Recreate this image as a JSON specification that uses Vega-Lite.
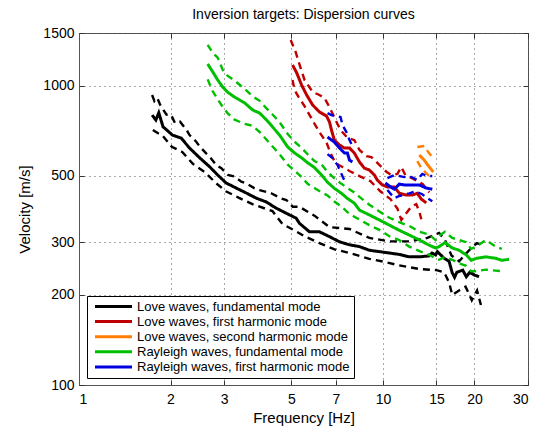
{
"$schema": "https://vega.github.io/schema/vega-lite/v6.json",
"width": 449, "height": 352,
"autosize": {"type": "none"},
"padding": {"left": 79, "top": 33, "right": 10, "bottom": 47},
"background": "white",
"title": {"text": "Inversion targets: Dispersion curves", "fontSize": 14, "fontWeight": "normal", "font": "Liberation Sans", "offset": 4, "anchor": "middle", "color": "black"},
"config": {
"view": {"stroke": "#555", "strokeWidth": 1},
"axis": {"labelFont": "Liberation Sans", "titleFont": "Liberation Sans", "labelFontSize": 14, "titleFontSize": 15, "titleFontWeight": "normal", "labelColor": "black", "titleColor": "black", "tickSize": -5, "tickColor": "#333", "domainColor": "#555", "gridDash": [1, 4], "gridColor": "#444", "gridOpacity": 0.9, "labelPadding": 12}
},
"data": {"values": [
{"m":"L0","k":"mid","s":"L0m","f":1.74,"v":798},{"m":"L0","k":"mid","s":"L0m","f":1.79,"v":768},{"m":"L0","k":"mid","s":"L0m","f":1.83,"v":812},{"m":"L0","k":"mid","s":"L0m","f":1.89,"v":729},{"m":"L0","k":"mid","s":"L0m","f":2.03,"v":684},{"m":"L0","k":"mid","s":"L0m","f":2.17,"v":668},{"m":"L0","k":"mid","s":"L0m","f":2.31,"v":619},{"m":"L0","k":"mid","s":"L0m","f":2.5,"v":573},{"m":"L0","k":"mid","s":"L0m","f":2.69,"v":536},{"m":"L0","k":"mid","s":"L0m","f":2.86,"v":503},{"m":"L0","k":"mid","s":"L0m","f":3.05,"v":473},{"m":"L0","k":"mid","s":"L0m","f":3.29,"v":455},{"m":"L0","k":"mid","s":"L0m","f":3.55,"v":438},{"m":"L0","k":"mid","s":"L0m","f":3.83,"v":421},{"m":"L0","k":"mid","s":"L0m","f":4.13,"v":409},{"m":"L0","k":"mid","s":"L0m","f":4.45,"v":390},{"m":"L0","k":"mid","s":"L0m","f":4.8,"v":375},{"m":"L0","k":"mid","s":"L0m","f":5.18,"v":361},{"m":"L0","k":"mid","s":"L0m","f":5.31,"v":347},{"m":"L0","k":"mid","s":"L0m","f":5.73,"v":325},{"m":"L0","k":"mid","s":"L0m","f":6.18,"v":325},{"m":"L0","k":"mid","s":"L0m","f":6.67,"v":313},{"m":"L0","k":"mid","s":"L0m","f":7.19,"v":301},{"m":"L0","k":"mid","s":"L0m","f":7.76,"v":294},{"m":"L0","k":"mid","s":"L0m","f":8.37,"v":290},{"m":"L0","k":"mid","s":"L0m","f":9.02,"v":282},{"m":"L0","k":"mid","s":"L0m","f":9.73,"v":279},{"m":"L0","k":"mid","s":"L0m","f":10.5,"v":276},{"m":"L0","k":"mid","s":"L0m","f":11.32,"v":273},{"m":"L0","k":"mid","s":"L0m","f":12.21,"v":268},{"m":"L0","k":"mid","s":"L0m","f":13.17,"v":268},{"m":"L0","k":"mid","s":"L0m","f":14.2,"v":270},{"m":"L0","k":"mid","s":"L0m","f":14.5,"v":276},{"m":"L0","k":"mid","s":"L0m","f":14.9,"v":272},{"m":"L0","k":"mid","s":"L0m","f":15.1,"v":279},{"m":"L0","k":"mid","s":"L0m","f":15.9,"v":265},{"m":"L0","k":"mid","s":"L0m","f":16.5,"v":259},{"m":"L0","k":"mid","s":"L0m","f":16.9,"v":237},{"m":"L0","k":"mid","s":"L0m","f":17.2,"v":229},{"m":"L0","k":"mid","s":"L0m","f":17.5,"v":238},{"m":"L0","k":"mid","s":"L0m","f":18.3,"v":242},{"m":"L0","k":"mid","s":"L0m","f":18.8,"v":230},{"m":"L0","k":"mid","s":"L0m","f":19.3,"v":238},{"m":"L0","k":"mid","s":"L0m","f":20.0,"v":233},{"m":"L0","k":"mid","s":"L0m","f":20.7,"v":230},
{"m":"L0","k":"bnd","s":"L0u","f":1.74,"v":931},{"m":"L0","k":"bnd","s":"L0u","f":1.77,"v":889},{"m":"L0","k":"bnd","s":"L0u","f":1.81,"v":910},{"m":"L0","k":"bnd","s":"L0u","f":1.85,"v":862},{"m":"L0","k":"bnd","s":"L0u","f":1.94,"v":800},{"m":"L0","k":"bnd","s":"L0u","f":2.01,"v":798},{"m":"L0","k":"bnd","s":"L0u","f":2.07,"v":750},{"m":"L0","k":"bnd","s":"L0u","f":2.15,"v":758},{"m":"L0","k":"bnd","s":"L0u","f":2.26,"v":711},{"m":"L0","k":"bnd","s":"L0u","f":2.31,"v":684},{"m":"L0","k":"bnd","s":"L0u","f":2.43,"v":650},{"m":"L0","k":"bnd","s":"L0u","f":2.5,"v":625},{"m":"L0","k":"bnd","s":"L0u","f":2.62,"v":594},{"m":"L0","k":"bnd","s":"L0u","f":2.69,"v":579},{"m":"L0","k":"bnd","s":"L0u","f":2.83,"v":543},{"m":"L0","k":"bnd","s":"L0u","f":2.94,"v":530},{"m":"L0","k":"bnd","s":"L0u","f":3.09,"v":503},{"m":"L0","k":"bnd","s":"L0u","f":3.25,"v":497},{"m":"L0","k":"bnd","s":"L0u","f":3.42,"v":478},{"m":"L0","k":"bnd","s":"L0u","f":3.55,"v":472},{"m":"L0","k":"bnd","s":"L0u","f":3.78,"v":454},{"m":"L0","k":"bnd","s":"L0u","f":3.93,"v":448},{"m":"L0","k":"bnd","s":"L0u","f":4.13,"v":442},{"m":"L0","k":"bnd","s":"L0u","f":4.29,"v":437},{"m":"L0","k":"bnd","s":"L0u","f":4.63,"v":420},{"m":"L0","k":"bnd","s":"L0u","f":4.81,"v":415},{"m":"L0","k":"bnd","s":"L0u","f":5.05,"v":394},{"m":"L0","k":"bnd","s":"L0u","f":5.31,"v":394},{"m":"L0","k":"bnd","s":"L0u","f":5.95,"v":368},{"m":"L0","k":"bnd","s":"L0u","f":6.67,"v":337},{"m":"L0","k":"bnd","s":"L0u","f":7.76,"v":332},{"m":"L0","k":"bnd","s":"L0u","f":9.02,"v":310},{"m":"L0","k":"bnd","s":"L0u","f":10.5,"v":302},{"m":"L0","k":"bnd","s":"L0u","f":12.2,"v":302},{"m":"L0","k":"bnd","s":"L0u","f":14.0,"v":310},{"m":"L0","k":"bnd","s":"L0u","f":15.3,"v":322},{"m":"L0","k":"bnd","s":"L0u","f":16.0,"v":305},{"m":"L0","k":"bnd","s":"L0u","f":16.8,"v":271},{"m":"L0","k":"bnd","s":"L0u","f":17.8,"v":259},{"m":"L0","k":"bnd","s":"L0u","f":19.2,"v":282},{"m":"L0","k":"bnd","s":"L0u","f":20.4,"v":298},{"m":"L0","k":"bnd","s":"L0u","f":21.0,"v":294},
{"m":"L0","k":"bnd","s":"L0l","f":1.75,"v":711},{"m":"L0","k":"bnd","s":"L0l","f":1.89,"v":678},{"m":"L0","k":"bnd","s":"L0l","f":2.02,"v":625},{"m":"L0","k":"bnd","s":"L0l","f":2.19,"v":600},{"m":"L0","k":"bnd","s":"L0l","f":2.37,"v":548},{"m":"L0","k":"bnd","s":"L0l","f":2.59,"v":515},{"m":"L0","k":"bnd","s":"L0l","f":2.82,"v":473},{"m":"L0","k":"bnd","s":"L0l","f":3.04,"v":444},{"m":"L0","k":"bnd","s":"L0l","f":3.36,"v":422},{"m":"L0","k":"bnd","s":"L0l","f":3.72,"v":402},{"m":"L0","k":"bnd","s":"L0l","f":4.33,"v":381},{"m":"L0","k":"bnd","s":"L0l","f":4.67,"v":345},{"m":"L0","k":"bnd","s":"L0l","f":5.16,"v":327},{"m":"L0","k":"bnd","s":"L0l","f":5.52,"v":314},{"m":"L0","k":"bnd","s":"L0l","f":6.18,"v":298},{"m":"L0","k":"bnd","s":"L0l","f":6.93,"v":284},{"m":"L0","k":"bnd","s":"L0l","f":7.76,"v":276},{"m":"L0","k":"bnd","s":"L0l","f":9.02,"v":264},{"m":"L0","k":"bnd","s":"L0l","f":10.1,"v":258},{"m":"L0","k":"bnd","s":"L0l","f":11.3,"v":251},{"m":"L0","k":"bnd","s":"L0l","f":13.2,"v":244},{"m":"L0","k":"bnd","s":"L0l","f":15.0,"v":242},{"m":"L0","k":"bnd","s":"L0l","f":15.9,"v":238},{"m":"L0","k":"bnd","s":"L0l","f":16.5,"v":220},{"m":"L0","k":"bnd","s":"L0l","f":16.9,"v":200},{"m":"L0","k":"bnd","s":"L0l","f":17.8,"v":207},{"m":"L0","k":"bnd","s":"L0l","f":18.7,"v":213},{"m":"L0","k":"bnd","s":"L0l","f":19.6,"v":192},{"m":"L0","k":"bnd","s":"L0l","f":20.4,"v":207},{"m":"L0","k":"bnd","s":"L0l","f":21.0,"v":185},
{"m":"L1","k":"mid","s":"L1m","f":5.04,"v":1173},{"m":"L1","k":"mid","s":"L1m","f":5.2,"v":1105},{"m":"L1","k":"mid","s":"L1m","f":5.4,"v":1005},{"m":"L1","k":"mid","s":"L1m","f":5.61,"v":931},{"m":"L1","k":"mid","s":"L1m","f":5.87,"v":862},{"m":"L1","k":"mid","s":"L1m","f":6.18,"v":817},{"m":"L1","k":"mid","s":"L1m","f":6.52,"v":792},{"m":"L1","k":"mid","s":"L1m","f":6.67,"v":756},{"m":"L1","k":"mid","s":"L1m","f":6.77,"v":711},{"m":"L1","k":"mid","s":"L1m","f":6.92,"v":658},{"m":"L1","k":"mid","s":"L1m","f":7.19,"v":634},{"m":"L1","k":"mid","s":"L1m","f":7.47,"v":619},{"m":"L1","k":"mid","s":"L1m","f":7.76,"v":619},{"m":"L1","k":"mid","s":"L1m","f":8.05,"v":596},{"m":"L1","k":"mid","s":"L1m","f":8.37,"v":556},{"m":"L1","k":"mid","s":"L1m","f":8.69,"v":530},{"m":"L1","k":"mid","s":"L1m","f":9.02,"v":523},{"m":"L1","k":"mid","s":"L1m","f":9.37,"v":503},{"m":"L1","k":"mid","s":"L1m","f":9.58,"v":484},{"m":"L1","k":"mid","s":"L1m","f":9.95,"v":466},{"m":"L1","k":"mid","s":"L1m","f":10.34,"v":459},{"m":"L1","k":"mid","s":"L1m","f":10.9,"v":459},{"m":"L1","k":"mid","s":"L1m","f":11.32,"v":437},{"m":"L1","k":"mid","s":"L1m","f":11.94,"v":431},{"m":"L1","k":"mid","s":"L1m","f":12.49,"v":431},{"m":"L1","k":"mid","s":"L1m","f":12.97,"v":437},{"m":"L1","k":"mid","s":"L1m","f":13.37,"v":418},{"m":"L1","k":"mid","s":"L1m","f":13.88,"v":406},
{"m":"L1","k":"bnd","s":"L1u","f":4.97,"v":1422},{"m":"L1","k":"bnd","s":"L1u","f":5.16,"v":1297},{"m":"L1","k":"bnd","s":"L1u","f":5.28,"v":1200},{"m":"L1","k":"bnd","s":"L1u","f":5.52,"v":1045},{"m":"L1","k":"bnd","s":"L1u","f":5.87,"v":953},{"m":"L1","k":"bnd","s":"L1u","f":6.18,"v":931},{"m":"L1","k":"bnd","s":"L1u","f":6.42,"v":910},{"m":"L1","k":"bnd","s":"L1u","f":6.67,"v":848},{"m":"L1","k":"bnd","s":"L1u","f":6.98,"v":768},{"m":"L1","k":"bnd","s":"L1u","f":7.25,"v":711},{"m":"L1","k":"bnd","s":"L1u","f":7.64,"v":670},{"m":"L1","k":"bnd","s":"L1u","f":8.05,"v":658},{"m":"L1","k":"bnd","s":"L1u","f":8.37,"v":610},{"m":"L1","k":"bnd","s":"L1u","f":8.82,"v":582},{"m":"L1","k":"bnd","s":"L1u","f":9.16,"v":577},{"m":"L1","k":"bnd","s":"L1u","f":9.66,"v":548},{"m":"L1","k":"bnd","s":"L1u","f":10.26,"v":516},{"m":"L1","k":"bnd","s":"L1u","f":10.66,"v":503},{"m":"L1","k":"bnd","s":"L1u","f":11.15,"v":507},{"m":"L1","k":"bnd","s":"L1u","f":11.49,"v":535},{"m":"L1","k":"bnd","s":"L1u","f":11.85,"v":503},{"m":"L1","k":"bnd","s":"L1u","f":12.5,"v":490},{"m":"L1","k":"bnd","s":"L1u","f":13.5,"v":470},{"m":"L1","k":"bnd","s":"L1u","f":14.2,"v":440},
{"m":"L1","k":"bnd","s":"L1l","f":5.04,"v":1045},{"m":"L1","k":"bnd","s":"L1l","f":5.12,"v":967},{"m":"L1","k":"bnd","s":"L1l","f":5.28,"v":916},{"m":"L1","k":"bnd","s":"L1l","f":5.52,"v":855},{"m":"L1","k":"bnd","s":"L1l","f":5.91,"v":756},{"m":"L1","k":"bnd","s":"L1l","f":6.18,"v":700},{"m":"L1","k":"bnd","s":"L1l","f":6.52,"v":646},{"m":"L1","k":"bnd","s":"L1l","f":6.72,"v":596},{"m":"L1","k":"bnd","s":"L1l","f":6.98,"v":551},{"m":"L1","k":"bnd","s":"L1l","f":7.36,"v":535},{"m":"L1","k":"bnd","s":"L1l","f":7.76,"v":519},{"m":"L1","k":"bnd","s":"L1l","f":8.37,"v":499},{"m":"L1","k":"bnd","s":"L1l","f":9.09,"v":480},{"m":"L1","k":"bnd","s":"L1l","f":9.8,"v":444},{"m":"L1","k":"bnd","s":"L1l","f":10.58,"v":418},{"m":"L1","k":"bnd","s":"L1l","f":11.15,"v":389},{"m":"L1","k":"bnd","s":"L1l","f":11.49,"v":356},{"m":"L1","k":"bnd","s":"L1l","f":12.4,"v":395},{"m":"L1","k":"bnd","s":"L1l","f":12.87,"v":402},{"m":"L1","k":"bnd","s":"L1l","f":13.17,"v":380},{"m":"L1","k":"bnd","s":"L1l","f":13.37,"v":358},
{"m":"L2","k":"mid","s":"L2m","f":13.17,"v":587},{"m":"L2","k":"mid","s":"L2m","f":13.67,"v":564},{"m":"L2","k":"mid","s":"L2m","f":14.2,"v":535},{"m":"L2","k":"mid","s":"L2m","f":14.64,"v":515},
{"m":"L2","k":"bnd","s":"L2u","f":12.97,"v":624},{"m":"L2","k":"bnd","s":"L2u","f":13.67,"v":629},{"m":"L2","k":"bnd","s":"L2u","f":14.09,"v":600},{"m":"L2","k":"bnd","s":"L2u","f":14.64,"v":573},
{"m":"L2","k":"bnd","s":"L2l","f":12.97,"v":560},{"m":"L2","k":"bnd","s":"L2l","f":13.37,"v":530},{"m":"L2","k":"bnd","s":"L2l","f":13.88,"v":510},{"m":"L2","k":"bnd","s":"L2l","f":14.31,"v":495},
{"m":"R0","k":"mid","s":"R0m","f":2.65,"v":1182},{"m":"R0","k":"mid","s":"R0m","f":2.73,"v":1128},{"m":"R0","k":"mid","s":"R0m","f":2.86,"v":1045},{"m":"R0","k":"mid","s":"R0m","f":2.97,"v":990},{"m":"R0","k":"mid","s":"R0m","f":3.08,"v":952},{"m":"R0","k":"mid","s":"R0m","f":3.25,"v":916},{"m":"R0","k":"mid","s":"R0m","f":3.51,"v":875},{"m":"R0","k":"mid","s":"R0m","f":3.73,"v":829},{"m":"R0","k":"mid","s":"R0m","f":3.93,"v":810},{"m":"R0","k":"mid","s":"R0m","f":4.14,"v":768},{"m":"R0","k":"mid","s":"R0m","f":4.34,"v":727},{"m":"R0","k":"mid","s":"R0m","f":4.57,"v":684},{"m":"R0","k":"mid","s":"R0m","f":4.86,"v":624},{"m":"R0","k":"mid","s":"R0m","f":5.12,"v":596},{"m":"R0","k":"mid","s":"R0m","f":5.4,"v":574},{"m":"R0","k":"mid","s":"R0m","f":5.65,"v":553},{"m":"R0","k":"mid","s":"R0m","f":5.95,"v":533},{"m":"R0","k":"mid","s":"R0m","f":6.28,"v":503},{"m":"R0","k":"mid","s":"R0m","f":6.57,"v":476},{"m":"R0","k":"mid","s":"R0m","f":6.92,"v":454},{"m":"R0","k":"mid","s":"R0m","f":7.3,"v":437},{"m":"R0","k":"mid","s":"R0m","f":7.64,"v":420},{"m":"R0","k":"mid","s":"R0m","f":8.05,"v":405},{"m":"R0","k":"mid","s":"R0m","f":8.37,"v":384},{"m":"R0","k":"mid","s":"R0m","f":9.02,"v":370},{"m":"R0","k":"mid","s":"R0m","f":9.73,"v":356},{"m":"R0","k":"mid","s":"R0m","f":10.5,"v":342},{"m":"R0","k":"mid","s":"R0m","f":11.3,"v":329},{"m":"R0","k":"mid","s":"R0m","f":12.2,"v":317},{"m":"R0","k":"mid","s":"R0m","f":13.2,"v":305},{"m":"R0","k":"mid","s":"R0m","f":14.2,"v":293},{"m":"R0","k":"mid","s":"R0m","f":14.9,"v":287},{"m":"R0","k":"mid","s":"R0m","f":15.3,"v":290},{"m":"R0","k":"mid","s":"R0m","f":16.0,"v":299},{"m":"R0","k":"mid","s":"R0m","f":16.9,"v":287},{"m":"R0","k":"mid","s":"R0m","f":17.8,"v":282},{"m":"R0","k":"mid","s":"R0m","f":18.8,"v":272},{"m":"R0","k":"mid","s":"R0m","f":19.5,"v":261},{"m":"R0","k":"mid","s":"R0m","f":20.3,"v":265},{"m":"R0","k":"mid","s":"R0m","f":21.8,"v":268},{"m":"R0","k":"mid","s":"R0m","f":23.5,"v":265},{"m":"R0","k":"mid","s":"R0m","f":24.6,"v":261},{"m":"R0","k":"mid","s":"R0m","f":26.0,"v":263},
{"m":"R0","k":"bnd","s":"R0u","f":2.65,"v":1370},{"m":"R0","k":"bnd","s":"R0u","f":2.75,"v":1290},{"m":"R0","k":"bnd","s":"R0u","f":2.86,"v":1240},{"m":"R0","k":"bnd","s":"R0u","f":2.97,"v":1130},{"m":"R0","k":"bnd","s":"R0u","f":3.08,"v":1080},{"m":"R0","k":"bnd","s":"R0u","f":3.25,"v":1040},{"m":"R0","k":"bnd","s":"R0u","f":3.51,"v":975},{"m":"R0","k":"bnd","s":"R0u","f":3.73,"v":920},{"m":"R0","k":"bnd","s":"R0u","f":3.93,"v":890},{"m":"R0","k":"bnd","s":"R0u","f":4.14,"v":840},{"m":"R0","k":"bnd","s":"R0u","f":4.34,"v":800},{"m":"R0","k":"bnd","s":"R0u","f":4.57,"v":755},{"m":"R0","k":"bnd","s":"R0u","f":4.86,"v":690},{"m":"R0","k":"bnd","s":"R0u","f":5.12,"v":650},{"m":"R0","k":"bnd","s":"R0u","f":5.4,"v":620},{"m":"R0","k":"bnd","s":"R0u","f":5.65,"v":590},{"m":"R0","k":"bnd","s":"R0u","f":5.95,"v":560},{"m":"R0","k":"bnd","s":"R0u","f":6.28,"v":545},{"m":"R0","k":"bnd","s":"R0u","f":6.57,"v":515},{"m":"R0","k":"bnd","s":"R0u","f":6.92,"v":490},{"m":"R0","k":"bnd","s":"R0u","f":7.3,"v":470},{"m":"R0","k":"bnd","s":"R0u","f":7.64,"v":455},{"m":"R0","k":"bnd","s":"R0u","f":8.05,"v":440},{"m":"R0","k":"bnd","s":"R0u","f":8.37,"v":425},{"m":"R0","k":"bnd","s":"R0u","f":9.02,"v":400},{"m":"R0","k":"bnd","s":"R0u","f":9.73,"v":380},{"m":"R0","k":"bnd","s":"R0u","f":10.5,"v":362},{"m":"R0","k":"bnd","s":"R0u","f":11.3,"v":350},{"m":"R0","k":"bnd","s":"R0u","f":12.2,"v":340},{"m":"R0","k":"bnd","s":"R0u","f":13.2,"v":325},{"m":"R0","k":"bnd","s":"R0u","f":14.2,"v":318},{"m":"R0","k":"bnd","s":"R0u","f":14.9,"v":305},{"m":"R0","k":"bnd","s":"R0u","f":15.3,"v":315},{"m":"R0","k":"bnd","s":"R0u","f":16.0,"v":325},{"m":"R0","k":"bnd","s":"R0u","f":16.9,"v":310},{"m":"R0","k":"bnd","s":"R0u","f":17.8,"v":305},{"m":"R0","k":"bnd","s":"R0u","f":18.8,"v":300},{"m":"R0","k":"bnd","s":"R0u","f":19.5,"v":285},{"m":"R0","k":"bnd","s":"R0u","f":20.3,"v":290},{"m":"R0","k":"bnd","s":"R0u","f":21.8,"v":305},{"m":"R0","k":"bnd","s":"R0u","f":23.5,"v":290},{"m":"R0","k":"bnd","s":"R0u","f":24.6,"v":285},
{"m":"R0","k":"bnd","s":"R0l","f":2.65,"v":1050},{"m":"R0","k":"bnd","s":"R0l","f":2.75,"v":960},{"m":"R0","k":"bnd","s":"R0l","f":2.86,"v":900},{"m":"R0","k":"bnd","s":"R0l","f":2.97,"v":850},{"m":"R0","k":"bnd","s":"R0l","f":3.08,"v":810},{"m":"R0","k":"bnd","s":"R0l","f":3.25,"v":770},{"m":"R0","k":"bnd","s":"R0l","f":3.51,"v":745},{"m":"R0","k":"bnd","s":"R0l","f":3.73,"v":735},{"m":"R0","k":"bnd","s":"R0l","f":3.93,"v":700},{"m":"R0","k":"bnd","s":"R0l","f":4.14,"v":660},{"m":"R0","k":"bnd","s":"R0l","f":4.34,"v":625},{"m":"R0","k":"bnd","s":"R0l","f":4.57,"v":590},{"m":"R0","k":"bnd","s":"R0l","f":4.86,"v":545},{"m":"R0","k":"bnd","s":"R0l","f":5.12,"v":520},{"m":"R0","k":"bnd","s":"R0l","f":5.4,"v":495},{"m":"R0","k":"bnd","s":"R0l","f":5.65,"v":470},{"m":"R0","k":"bnd","s":"R0l","f":5.95,"v":455},{"m":"R0","k":"bnd","s":"R0l","f":6.28,"v":440},{"m":"R0","k":"bnd","s":"R0l","f":6.57,"v":430},{"m":"R0","k":"bnd","s":"R0l","f":6.92,"v":410},{"m":"R0","k":"bnd","s":"R0l","f":7.3,"v":395},{"m":"R0","k":"bnd","s":"R0l","f":7.64,"v":378},{"m":"R0","k":"bnd","s":"R0l","f":8.05,"v":365},{"m":"R0","k":"bnd","s":"R0l","f":8.37,"v":357},{"m":"R0","k":"bnd","s":"R0l","f":9.02,"v":342},{"m":"R0","k":"bnd","s":"R0l","f":9.73,"v":330},{"m":"R0","k":"bnd","s":"R0l","f":10.5,"v":314},{"m":"R0","k":"bnd","s":"R0l","f":11.3,"v":305},{"m":"R0","k":"bnd","s":"R0l","f":12.2,"v":290},{"m":"R0","k":"bnd","s":"R0l","f":13.2,"v":280},{"m":"R0","k":"bnd","s":"R0l","f":14.2,"v":272},{"m":"R0","k":"bnd","s":"R0l","f":14.9,"v":265},{"m":"R0","k":"bnd","s":"R0l","f":15.3,"v":262},{"m":"R0","k":"bnd","s":"R0l","f":16.0,"v":268},{"m":"R0","k":"bnd","s":"R0l","f":16.9,"v":262},{"m":"R0","k":"bnd","s":"R0l","f":17.8,"v":255},{"m":"R0","k":"bnd","s":"R0l","f":18.8,"v":250},{"m":"R0","k":"bnd","s":"R0l","f":19.5,"v":240},{"m":"R0","k":"bnd","s":"R0l","f":20.3,"v":240},{"m":"R0","k":"bnd","s":"R0l","f":21.8,"v":243},{"m":"R0","k":"bnd","s":"R0l","f":23.5,"v":241},{"m":"R0","k":"bnd","s":"R0l","f":24.6,"v":240},
{"m":"R1","k":"mid","s":"R1m1","f":6.57,"v":674},{"m":"R1","k":"mid","s":"R1m1","f":6.92,"v":648},{"m":"R1","k":"mid","s":"R1m1","f":7.3,"v":610},{"m":"R1","k":"mid","s":"R1m1","f":7.47,"v":596},{"m":"R1","k":"mid","s":"R1m1","f":7.64,"v":596},{"m":"R1","k":"mid","s":"R1m1","f":7.76,"v":564},{"m":"R1","k":"mid","s":"R1m1","f":7.93,"v":556},
{"m":"R1","k":"mid","s":"R1m2","f":10.18,"v":473},{"m":"R1","k":"mid","s":"R1m2","f":10.5,"v":462},{"m":"R1","k":"mid","s":"R1m2","f":10.9,"v":451},{"m":"R1","k":"mid","s":"R1m2","f":11.32,"v":469},{"m":"R1","k":"mid","s":"R1m2","f":11.76,"v":466},{"m":"R1","k":"mid","s":"R1m2","f":12.21,"v":466},{"m":"R1","k":"mid","s":"R1m2","f":13.17,"v":466},{"m":"R1","k":"mid","s":"R1m2","f":13.88,"v":455},{"m":"R1","k":"mid","s":"R1m2","f":14.53,"v":451},
{"m":"R1","k":"bnd","s":"R1u1","f":6.57,"v":810},{"m":"R1","k":"bnd","s":"R1u1","f":6.77,"v":798},{"m":"R1","k":"bnd","s":"R1u1","f":7.25,"v":786},{"m":"R1","k":"bnd","s":"R1u1","f":7.36,"v":739},{"m":"R1","k":"bnd","s":"R1u1","f":7.58,"v":700},{"m":"R1","k":"bnd","s":"R1u1","f":7.76,"v":658},{"m":"R1","k":"bnd","s":"R1u1","f":7.93,"v":628},
{"m":"R1","k":"bnd","s":"R1u2","f":10.34,"v":491},{"m":"R1","k":"bnd","s":"R1u2","f":10.9,"v":503},{"m":"R1","k":"bnd","s":"R1u2","f":11.76,"v":495},{"m":"R1","k":"bnd","s":"R1u2","f":12.21,"v":499},{"m":"R1","k":"bnd","s":"R1u2","f":12.97,"v":484},{"m":"R1","k":"bnd","s":"R1u2","f":13.47,"v":507},{"m":"R1","k":"bnd","s":"R1u2","f":13.99,"v":499},{"m":"R1","k":"bnd","s":"R1u2","f":14.53,"v":499},
{"m":"R1","k":"bnd","s":"R1l1","f":6.57,"v":591},{"m":"R1","k":"bnd","s":"R1l1","f":6.82,"v":573},{"m":"R1","k":"bnd","s":"R1l1","f":7.09,"v":543},{"m":"R1","k":"bnd","s":"R1l1","f":7.25,"v":515},{"m":"R1","k":"bnd","s":"R1l1","f":7.41,"v":491},{"m":"R1","k":"bnd","s":"R1l1","f":7.52,"v":476},
{"m":"R1","k":"bnd","s":"R1l2","f":10.34,"v":448},{"m":"R1","k":"bnd","s":"R1l2","f":10.9,"v":421},{"m":"R1","k":"bnd","s":"R1l2","f":11.32,"v":428},{"m":"R1","k":"bnd","s":"R1l2","f":12.21,"v":437},{"m":"R1","k":"bnd","s":"R1l2","f":12.78,"v":444},{"m":"R1","k":"bnd","s":"R1l2","f":13.47,"v":434},{"m":"R1","k":"bnd","s":"R1l2","f":13.99,"v":421},{"m":"R1","k":"bnd","s":"R1l2","f":14.53,"v":411}
]},
"resolve": {"axis": {"x": "independent", "y": "independent"}},
"layer": [
{
"mark": {"type": "line", "clip": true},
"encoding": {
"x": {"field": "f", "type": "quantitative", "scale": {"type": "log", "domain": [1, 30], "nice": false}, "axis": {"values": [1, 2, 3, 5, 7, 10, 15, 20, 30], "format": "d", "title": "Frequency [Hz]", "grid": true, "labelPadding": 12, "titlePadding": 4}},
"y": {"field": "v", "type": "quantitative", "scale": {"type": "log", "domain": [100, 1500], "nice": false}, "axis": {"values": [100, 200, 300, 500, 1000, 1500], "format": "d", "title": "Velocity [m/s]", "grid": true, "labelPadding": 10, "titlePadding": 10}},
"color": {"field": "m", "type": "nominal", "scale": {"domain": ["L0", "L1", "L2", "R0", "R1"], "range": ["#000000", "#c00000", "#ff8000", "#00bf00", "#0000e0"]},
  "legend": {"orient": "none", "legendX": 8, "legendY": 263, "title": null, "strokeColor": "black", "fillColor": "white", "padding": 4, "labelFont": "Liberation Sans", "labelFontSize": 13, "labelColor": "black", "labelLimit": 400, "symbolType": "M-3.7,0H3.7", "symbolSize": 100, "symbolStrokeWidth": 3, "symbolOffset": 16, "labelOffset": 17, "rowPadding": 1.1,
  "labelExpr": "{'L0':'Love waves, fundamental mode','L1':'Love waves, first harmonic mode','L2':'Love waves, second harmonic mode','R0':'Rayleigh waves, fundamental mode','R1':'Rayleigh waves, first harmonic mode'}[datum.label]"}},
"strokeDash": {"field": "k", "type": "nominal", "scale": {"domain": ["mid", "bnd"], "range": [[1, 0], [7, 5]]}, "legend": null},
"strokeWidth": {"field": "k", "type": "nominal", "scale": {"domain": ["mid", "bnd"], "range": [3, 2.4]}, "legend": null},
"detail": {"field": "s", "type": "nominal"}
}
},
{
"mark": {"type": "line", "opacity": 0},
"encoding": {
"x": {"field": "f", "type": "quantitative", "axis": {"orient": "top", "values": [1, 2, 3, 5, 7, 10, 15, 20, 30], "labels": false, "title": null, "grid": false, "domain": false}},
"y": {"field": "v", "type": "quantitative", "axis": {"orient": "right", "values": [100, 200, 300, 500, 1000, 1500], "labels": false, "title": null, "grid": false, "domain": false}},
"detail": {"field": "s", "type": "nominal"}
}
}
]
}
